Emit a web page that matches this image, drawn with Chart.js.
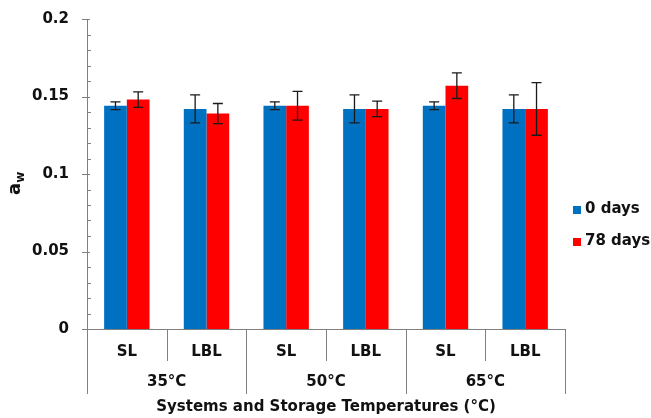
<!DOCTYPE html>
<html>
<head>
<meta charset="utf-8">
<script src="https://cdn.jsdelivr.net/npm/chart.js@4.4.0/dist/chart.umd.min.js"></script>
<style>
  html, body { margin: 0; padding: 0; background: #fff; }
  #wrap { width: 651px; height: 418px; position: relative; }
</style>
</head>
<body>
<div id="wrap"><canvas id="awChart"></canvas></div>
<script>
// data
const systems = ['SL', 'LBL', 'SL', 'LBL', 'SL', 'LBL'];
const temperatures = ['35°C', '50°C', '65°C'];
const day0 = [0.144, 0.142, 0.144, 0.142, 0.144, 0.142];
const day0Err = [0.0025, 0.009, 0.0025, 0.009, 0.0025, 0.009];
const day78 = [0.148, 0.139, 0.144, 0.142, 0.157, 0.142];
const day78Err = [0.005, 0.0065, 0.0093, 0.005, 0.0083, 0.017];
const yTicks = [0, 0.05, 0.1, 0.15, 0.2];

const FONT = '"DejaVu Sans", Arial, sans-serif';
const AXIS = '#808080';

// error bars, axis ticks, grouped x labels, y title and legend
const decorations = {
    id: 'decorations',
    afterDatasetsDraw(chart) {
        const ctx = chart.ctx;
        const y = chart.scales.y;
        const errs = [day0Err, day78Err];
        ctx.save();
        ctx.strokeStyle = '#1a1a1a';
        ctx.lineWidth = 1.3;
        chart.data.datasets.forEach((ds, i) => {
            chart.getDatasetMeta(i).data.forEach((bar, j) => {
                const v = ds.data[j];
                const top = y.getPixelForValue(v + errs[i][j]);
                const bot = y.getPixelForValue(v - errs[i][j]);
                ctx.beginPath();
                ctx.moveTo(bar.x, top); ctx.lineTo(bar.x, bot);
                ctx.moveTo(bar.x - 5, top); ctx.lineTo(bar.x + 5, top);
                ctx.moveTo(bar.x - 5, bot); ctx.lineTo(bar.x + 5, bot);
                ctx.stroke();
            });
        });
        ctx.restore();
    },
    afterDraw(chart) {
        const ctx = chart.ctx;
        const area = chart.chartArea;
        const x = chart.scales.x;
        const y = chart.scales.y;
        ctx.save();
        ctx.strokeStyle = AXIS;
        ctx.lineWidth = 1;

        // y ticks: major cross the axis, minor inside
        for (let k = 0; k <= 20; k++) {
            const py = Math.round(y.getPixelForValue(k * 0.01)) + 0.5;
            ctx.beginPath();
            if (k % 5 === 0) { ctx.moveTo(area.left - 5, py); ctx.lineTo(area.left + 3, py); }
            else { ctx.moveTo(area.left, py); ctx.lineTo(area.left + 4, py); }
            ctx.stroke();
        }

        // dividers under x axis
        const step = (area.right - area.left) / systems.length;
        for (let k = 0; k <= systems.length; k++) {
            const px = Math.round(area.left + k * step) + 0.5;
            ctx.beginPath();
            ctx.moveTo(px, area.bottom);
            ctx.lineTo(px, k % 2 === 0 ? area.bottom + 65 : area.bottom + 32);
            ctx.stroke();
        }

        ctx.fillStyle = '#111';
        ctx.textAlign = 'center';
        ctx.textBaseline = 'middle';
        ctx.font = 'bold 15px ' + FONT;
        systems.forEach((s, j) => {
            ctx.fillText(s, x.getPixelForValue(j), area.bottom + 23);
        });
        temperatures.forEach((t, g) => {
            ctx.fillText(t, area.left + (2 * g + 1) * step, area.bottom + 53);
        });
        ctx.fillText('Systems and Storage Temperatures (°C)', (area.left + area.right) / 2, area.bottom + 78);

        // y title a_w
        ctx.translate(20, 195);
        ctx.rotate(-Math.PI / 2);
        ctx.textAlign = 'left';
        ctx.textBaseline = 'alphabetic';
        ctx.font = 'bold 18px ' + FONT;
        ctx.fillText('a', 0, 0);
        const aw = ctx.measureText('a').width;
        ctx.font = 'bold 12px ' + FONT;
        ctx.fillText('w', aw, 4);
        ctx.setTransform(1, 0, 0, 1, 0, 0);

        // legend
        ctx.font = 'bold 15px ' + FONT;
        ctx.textAlign = 'left';
        ctx.textBaseline = 'middle';
        chart.data.datasets.forEach((ds, i) => {
            const ly = 209 + i * 32;
            ctx.fillStyle = ds.backgroundColor;
            ctx.fillRect(573, ly - 3, 8, 8);
            ctx.fillStyle = '#111';
            ctx.fillText(ds.label, 585, ly);
        });
        ctx.restore();
    }
};

new Chart(document.getElementById('awChart'), {
    type: 'bar',
    data: {
        labels: systems,
        datasets: [
            { label: '0 days', data: day0, backgroundColor: '#0070C0' },
            { label: '78 days', data: day78, backgroundColor: '#FF0000' }
        ]
    },
    options: {
        responsive: true,
        maintainAspectRatio: false,
        animation: false,
        layout: { padding: { left: 0, top: 17, right: 86, bottom: 89 } },
        datasets: { bar: { categoryPercentage: 0.57, barPercentage: 1.0 } },
        scales: {
            x: {
                ticks: { display: false },
                grid: { display: false },
                border: { display: true, color: AXIS, width: 1 },
                afterFit(scale) { scale.height = 0; }
            },
            y: {
                min: 0,
                max: 0.2,
                afterBuildTicks(scale) { scale.ticks = yTicks.map(v => ({ value: v })); },
                ticks: {
                    color: '#111',
                    padding: 10,
                    font: { family: FONT, size: 15, weight: 'bold' },
                    callback: v => String(Math.round(v * 100) / 100)
                },
                grid: { display: false },
                border: { display: true, color: AXIS, width: 1 },
                afterFit(scale) { scale.width = 87; }
            }
        },
        plugins: {
            legend: { display: false },
            tooltip: { enabled: false }
        }
    },
    plugins: [decorations]
});
</script>
</body>
</html>
